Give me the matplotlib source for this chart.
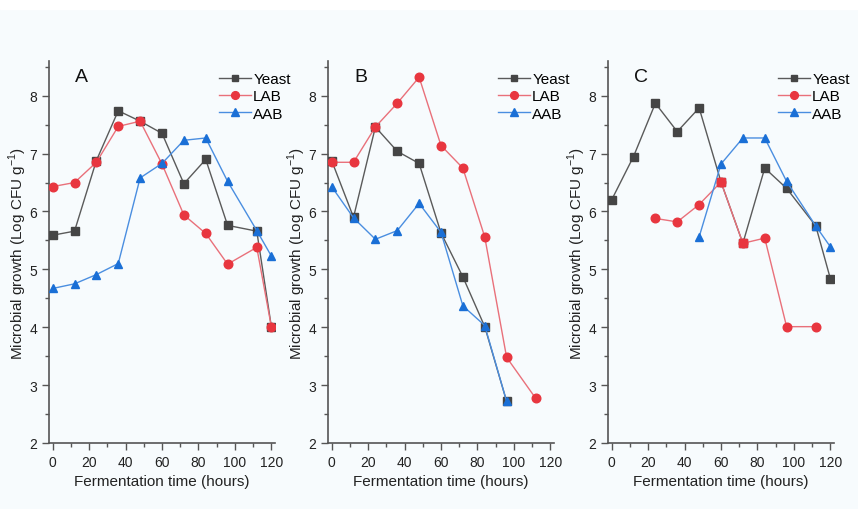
import matplotlib; matplotlib.use('Agg')
import matplotlib.pyplot as plt
import numpy as np

plt.rcParams['font.family'] = ['Liberation Sans', 'DejaVu Sans']

##############################################################################
hours = [0, 12, 24, 36, 48, 60, 72, 84, 96, 112, 120]

# Panel A
yeast_A = [5.59, 5.66, 6.88, 7.74, 7.56, 7.35, 6.48, 6.90, 5.76, 5.66, 4.01]
lab_A   = [6.43, 6.50, 6.85, 7.47, 7.56, 6.82, 5.94, 5.62, 5.09, 5.38, 4.01]
aab_A   = [4.67, 4.75, 4.91, 5.10, 6.58, 6.83, 7.23, 7.27, 6.52, 5.67, 5.23]

# Panel B
hours_yB = [0, 12, 24, 36, 48, 60, 72, 84, 96]
yeast_B = [6.88, 5.90, 7.46, 7.04, 6.83, 5.63, 4.87, 4.01, 2.72]
hours_lB = [0, 12, 24, 36, 48, 60, 72, 84, 96, 112]
lab_B   = [6.85, 6.85, 7.46, 7.87, 8.32, 7.14, 6.75, 5.56, 3.48, 2.77]
hours_aB = [0, 12, 24, 36, 48, 60, 72, 84, 96]
aab_B   = [6.43, 5.89, 5.52, 5.67, 6.14, 5.64, 4.37, 4.03, 2.72]

# Panel C
yeast_C = [6.20, 6.95, 7.87, 7.38, 7.79, 6.51, 5.45, 6.75, 6.40, 5.75, 4.84]
hours_lC = [24, 36, 48, 60, 72, 84, 96, 112]
lab_C   = [5.88, 5.82, 6.12, 6.51, 5.45, 5.54, 4.01, 4.01]
hours_aC = [48, 60, 72, 84, 96, 112, 120]
aab_C   = [5.56, 6.82, 7.27, 7.27, 6.52, 5.75, 5.39]
##############################################################################

bg = '#f7fbfd'
fig = plt.figure(figsize=(8.58, 5.10), dpi=100, facecolor=bg)
fig.patches.append(plt.Rectangle((0, 0.98), 1, 0.02, transform=fig.transFigure,
                                 color='white', zorder=-1))

c_y, c_yl = '#454545', '#5a5a5a'
c_l, c_ll = '#e8363f', '#e9707a'
c_a, c_al = '#1a6fd6', '#4a8ee0'

panels = [
    ('A', 49, (hours, yeast_A), (hours, lab_A), (hours, aab_A)),
    ('B', 328, (hours_yB, yeast_B), (hours_lB, lab_B), (hours_aB, aab_B)),
    ('C', 608, (hours, yeast_C), (hours_lC, lab_C), (hours_aC, aab_C)),
]

for letter, left, ys, ls, as_ in panels:
    ax = fig.add_axes([left/858, 66/510, 226/858, 382/510])
    ax.set_facecolor(bg)
    ax.plot(ys[0], ys[1], color=c_yl, lw=1, marker='s', ms=5.5,
            mfc=c_y, mec=c_y, label='Yeast', zorder=3)
    ax.plot(ls[0], ls[1], color=c_ll, lw=1, marker='o', ms=6.2,
            mfc=c_l, mec=c_l, label='LAB', zorder=3)
    ax.plot(as_[0], as_[1], color=c_al, lw=1, marker='^', ms=6.2,
            mfc=c_a, mec=c_a, label='AAB', zorder=3)
    if letter == 'C':
        # the shared yeast/LAB points at 60 and 72 h show as red squares
        ax.plot(ls[0][3:5], ls[1][3:5], ls='none', marker='s', ms=5.5,
                mfc=c_l, mec=c_l, zorder=4)

    ax.set_xlim(-2, 122)
    ax.set_ylim(2, 8.6)
    ax.set_xticks(np.arange(0, 121, 20))
    ax.set_xticks(np.arange(10, 121, 20), minor=True)
    ax.set_yticks(np.arange(2, 9, 1))
    ax.set_yticks(np.arange(2.5, 8.6, 1), minor=True)
    for s in ['top', 'right']:
        ax.spines[s].set_visible(False)
    for s in ['left', 'bottom']:
        ax.spines[s].set_color('#555555')
        ax.spines[s].set_linewidth(1.2)
    ax.tick_params(axis='both', which='major', length=5, width=1, color='#555555',
                   labelsize=10, labelcolor='#222222')
    ax.tick_params(axis='both', which='minor', length=3, width=1, color='#555555')
    ax.set_xlabel('Fermentation time (hours)', fontsize=11, color='#222222', labelpad=4)
    ax.set_ylabel(r'Microbial growth (Log CFU g$^{\mathregular{-1}}$)', fontsize=11,
                  color='#222222', labelpad=0)
    ax.text(0.115, 0.96, letter, transform=ax.transAxes, fontsize=14, color='#111111',
            va='center', ha='left')
    ax.legend(loc='upper right', bbox_to_anchor=(1.11, 0.995), frameon=False,
              fontsize=11, labelspacing=0.22, handlelength=2.1, handletextpad=0.15,
              borderaxespad=0.2, markerscale=0.9)

fig.savefig('out.png', dpi=100, facecolor=bg)
